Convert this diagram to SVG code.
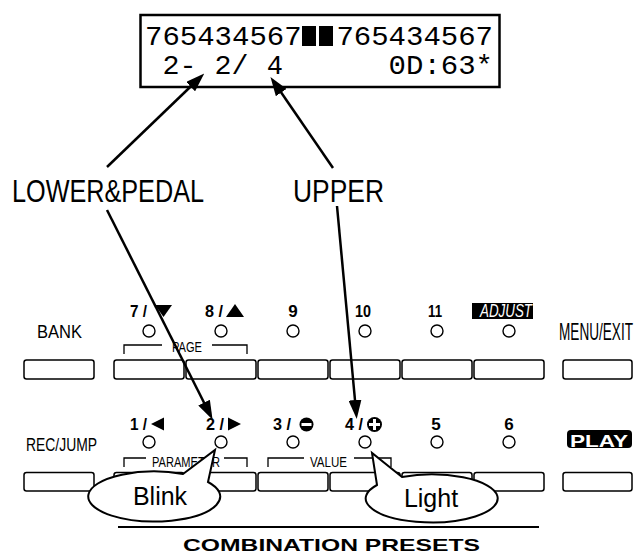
<svg xmlns="http://www.w3.org/2000/svg" width="637" height="554" viewBox="0 0 637 554">
<defs>
<marker id="ah" viewBox="0 0 19 13" refX="11" refY="6.5" markerWidth="19" markerHeight="13" markerUnits="userSpaceOnUse" orient="auto"><path d="M0,0 L19,6.5 L0,13 z" fill="#000"/></marker>
<style>
text{fill:#000}
.lcd{font-family:"Liberation Mono","DejaVu Sans Mono",monospace;font-size:27px}
.lab{font-family:"Liberation Sans",Arial,sans-serif;font-size:32px}
.bl{font-family:"Liberation Sans",Arial,sans-serif;font-size:18px}
.num{font-family:"Liberation Sans",Arial,sans-serif;font-size:17px;font-weight:bold}
.sm{font-family:"Liberation Sans",Arial,sans-serif;font-size:14px}
.co{font-family:"Liberation Sans",Arial,sans-serif;font-size:25px}
.btn{fill:#fff;stroke:#000;stroke-width:1.5}
.led{fill:#fff;stroke:#000;stroke-width:1.4}
.br{fill:none;stroke:#000;stroke-width:1.3}
.conn{fill:none;stroke:#000;stroke-width:2.5}
.callout{fill:#fff;stroke:#000;stroke-width:2}
.wt{fill:#fff}
</style>
</defs>
<rect width="637" height="554" fill="#fff"/>

<g id="display">
<rect x="140.5" y="15" width="359" height="72" fill="#fff" stroke="#000" stroke-width="2.5"/>
<text class="lcd" x="145" y="45" textLength="156.6" lengthAdjust="spacingAndGlyphs">765434567</text>
<rect x="302" y="26" width="14" height="20" fill="#000"/>
<rect x="319" y="26" width="14" height="20" fill="#000"/>
<text class="lcd" x="336.4" y="45" textLength="156.6" lengthAdjust="spacingAndGlyphs">765434567</text>
<text class="lcd" x="162.4" y="74" textLength="34" lengthAdjust="spacingAndGlyphs">2-</text>
<text class="lcd" x="214.6" y="74" textLength="34" lengthAdjust="spacingAndGlyphs">2/</text>
<text class="lcd" x="266.8" y="74">4</text>
<text class="lcd" x="388.6" y="74" textLength="104.4" lengthAdjust="spacingAndGlyphs">0D:63*</text>
</g>

<g id="label-lower">
<text class="lab" x="12" y="202" textLength="192" lengthAdjust="spacingAndGlyphs">LOWER&amp;PEDAL</text>
</g>
<g id="label-upper">
<text class="lab" x="293" y="202" textLength="91" lengthAdjust="spacingAndGlyphs">UPPER</text>
</g>

<g id="row1">
<text class="bl" x="37" y="338" textLength="45" lengthAdjust="spacingAndGlyphs">BANK</text>
<rect class="btn" x="24" y="360" width="70" height="19" rx="2.5"/>
<text class="num" x="130" y="317" textLength="17" lengthAdjust="spacingAndGlyphs">7 /</text>
<polygon points="155,305 172,305 163.5,317" fill="#000"/>
<text class="num" x="205" y="317" textLength="18" lengthAdjust="spacingAndGlyphs">8 /</text>
<polygon points="226,317 244,317 235,304" fill="#000"/>
<text class="num" x="293" y="317" text-anchor="middle">9</text>
<text class="num" x="355" y="317" textLength="16" lengthAdjust="spacingAndGlyphs">10</text>
<text class="num" x="428" y="317" textLength="14" lengthAdjust="spacingAndGlyphs">11</text>
<rect x="472" y="303" width="61" height="16" fill="#000"/>
<text class="bl wt" x="480" y="317" font-style="italic" font-size="16" textLength="52" lengthAdjust="spacingAndGlyphs">ADJUST</text>
<circle class="led" cx="149" cy="331" r="6"/>
<circle class="led" cx="221" cy="331" r="6"/>
<circle class="led" cx="293" cy="331" r="6"/>
<circle class="led" cx="365" cy="331" r="6"/>
<circle class="led" cx="437" cy="331" r="6"/>
<circle class="led" cx="509" cy="331" r="6"/>
<path class="br" d="M124,354 V345 H162 M212,345 H247 V354"/>
<text class="sm" x="172" y="352" textLength="30" lengthAdjust="spacingAndGlyphs">PAGE</text>
<rect class="btn" x="114" y="360" width="70" height="19" rx="2.5"/>
<rect class="btn" x="186" y="360" width="70" height="19" rx="2.5"/>
<rect class="btn" x="258" y="360" width="70" height="19" rx="2.5"/>
<rect class="btn" x="330" y="360" width="70" height="19" rx="2.5"/>
<rect class="btn" x="402" y="360" width="70" height="19" rx="2.5"/>
<rect class="btn" x="474" y="360" width="70" height="19" rx="2.5"/>
<text class="bl" transform="translate(559,340) scale(1,1.3)" x="0" y="0" font-size="14" textLength="74" lengthAdjust="spacingAndGlyphs">MENU/EXIT</text>
<rect class="btn" x="563" y="360" width="69" height="19" rx="2.5"/>
</g>

<g id="row2">
<text class="bl" x="26" y="451" textLength="71" lengthAdjust="spacingAndGlyphs">REC/JUMP</text>
<rect class="btn" x="24" y="472.5" width="70" height="18.5" rx="2.5"/>
<text class="num" x="130" y="430" textLength="17" lengthAdjust="spacingAndGlyphs">1 /</text>
<polygon points="151,424 164,417.5 164,430.5" fill="#000"/>
<text class="num" x="206" y="430" textLength="18" lengthAdjust="spacingAndGlyphs">2 /</text>
<polygon points="228,417.5 228,430.5 241,424" fill="#000"/>
<text class="num" x="273" y="430" textLength="18" lengthAdjust="spacingAndGlyphs">3 /</text>
<circle cx="306.5" cy="424.5" r="7" fill="#000"/>
<rect x="301.5" y="423" width="10" height="3" fill="#fff"/>
<text class="num" x="345" y="430" textLength="18" lengthAdjust="spacingAndGlyphs">4 /</text>
<circle cx="374.5" cy="424.5" r="7.5" fill="#000"/>
<rect x="369" y="423" width="11" height="3" fill="#fff"/>
<rect x="373" y="419" width="3" height="11" fill="#fff"/>
<text class="num" x="436" y="430" text-anchor="middle">5</text>
<text class="num" x="509" y="430" text-anchor="middle">6</text>
<rect x="567" y="430" width="65" height="18" rx="4" fill="#000"/>
<text class="num wt" x="570" y="447" font-size="19" textLength="58" lengthAdjust="spacingAndGlyphs">PLAY</text>
<circle class="led" cx="149" cy="442" r="6"/>
<circle class="led" cx="221" cy="442" r="6"/>
<circle class="led" cx="293" cy="442" r="6"/>
<circle class="led" cx="365" cy="442" r="6"/>
<circle class="led" cx="437" cy="442" r="6"/>
<circle class="led" cx="509" cy="442" r="6"/>
<path class="br" d="M124,467 V458 H146 M224,458 H247 V467"/>
<text class="sm" x="152" y="467" textLength="68" lengthAdjust="spacingAndGlyphs">PARAMETER</text>
<path class="br" d="M268,467 V458 H304 M354,458 H391 V467"/>
<text class="sm" x="310" y="467" textLength="37" lengthAdjust="spacingAndGlyphs">VALUE</text>
<rect class="btn" x="114" y="472.5" width="70" height="18.5" rx="2.5"/>
<rect class="btn" x="186" y="472.5" width="70" height="18.5" rx="2.5"/>
<rect class="btn" x="258" y="472.5" width="70" height="18.5" rx="2.5"/>
<rect class="btn" x="330" y="472.5" width="70" height="18.5" rx="2.5"/>
<rect class="btn" x="402" y="472.5" width="70" height="18.5" rx="2.5"/>
<rect class="btn" x="474" y="472.5" width="70" height="18.5" rx="2.5"/>
<rect class="btn" x="563" y="472.5" width="69" height="18.5" rx="2.5"/>
</g>

<g id="callout-blink">
<path class="callout" d="M183,474 L215,450 L208,482 A66,25 0 1 1 183,474 Z"/>
<text class="co" x="160" y="505" text-anchor="middle">Blink</text>
</g>
<g id="callout-light">
<path class="callout" d="M377,485 L372,453 L402,477 A66,24 0 1 1 377,485 Z"/>
<text class="co" x="431" y="507" text-anchor="middle">Light</text>
</g>

<g id="footer">
<line x1="118" y1="527" x2="539" y2="527" stroke="#000" stroke-width="2"/>
<text class="num" x="183" y="551" font-size="15" textLength="297" lengthAdjust="spacingAndGlyphs">COMBINATION PRESETS</text>
</g>

<g id="connectors">
<line class="conn" x1="107" y1="167" x2="198.5" y2="79" marker-end="url(#ah)"/>
<line class="conn" x1="333" y1="168" x2="275" y2="83.5" marker-end="url(#ah)"/>
<line class="conn" x1="107" y1="210" x2="209" y2="412.5" marker-end="url(#ah)"/>
<line class="conn" x1="337" y1="206" x2="356" y2="411" marker-end="url(#ah)"/>
</g>
</svg>
